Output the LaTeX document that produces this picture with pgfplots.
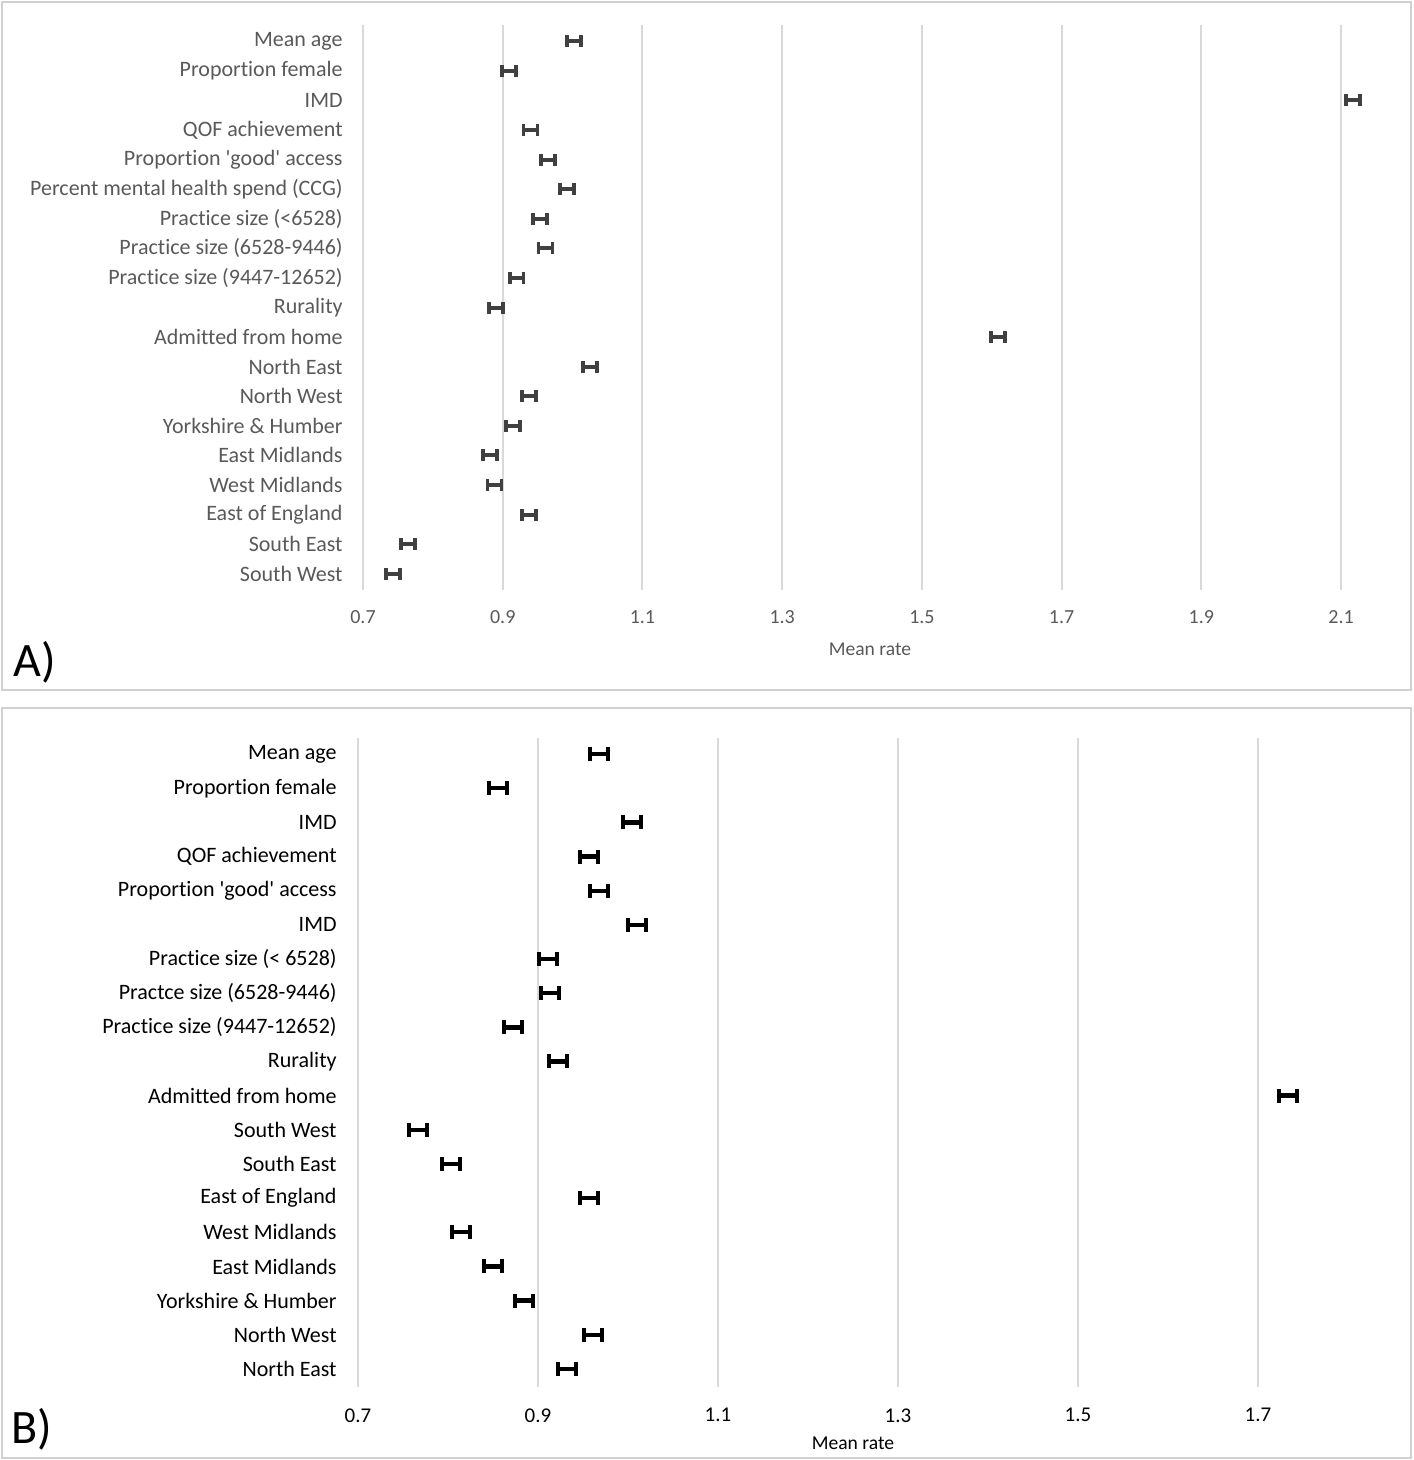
\documentclass[border=0pt]{standalone}
\usepackage{pgfplots}
\pgfplotsset{compat=1.18}
\usepackage{fontspec}
\setmainfont{Carlito}[Ligatures={TeX,NoCommon}]
\definecolor{gridgray}{HTML}{D9D9D9}
\definecolor{framegray}{HTML}{D0D0D0}
\definecolor{txtgray}{HTML}{595959}
\definecolor{bargray}{HTML}{404040}
\pgfplotstableread{
i v e
1 1.002 0.01
2 0.909 0.01
3 2.117 0.01
4 0.940 0.01
5 0.965 0.01
6 0.992 0.01
7 0.953 0.01
8 0.961 0.01
9 0.920 0.01
10 0.890 0.01
11 1.609 0.01
12 1.025 0.01
13 0.938 0.01
14 0.915 0.01
15 0.882 0.01
16 0.888 0.01
17 0.938 0.01
18 0.764 0.01
19 0.743 0.01
}\dataA
\pgfplotstableread{
i v e
1 0.968 0.01
2 0.856 0.01
3 1.004 0.01
4 0.957 0.01
5 0.968 0.01
6 1.010 0.01
7 0.911 0.01
8 0.913 0.01
9 0.872 0.01
10 0.922 0.01
11 1.733 0.01
12 0.767 0.01
13 0.803 0.01
14 0.957 0.01
15 0.814 0.01
16 0.850 0.01
17 0.884 0.01
18 0.961 0.01
19 0.932 0.01
}\dataB
\begin{document}
\begin{tikzpicture}
\path[use as bounding box] (0,0) rectangle (706.5pt,-730pt);
\draw[framegray, line width=1pt] (1pt,-1pt) rectangle (705.5pt,-345pt);
\draw[framegray, line width=1pt] (1pt,-354pt) rectangle (705.5pt,-729pt);
% Panel A
\begin{axis}[
  at={(181.5pt,-295pt)}, anchor=south west, scale only axis,
  width=517pt, height=282.5pt,
  xmin=0.7, xmax=2.18, ymin=0.45, ymax=19.55, y dir=reverse,
  axis line style={draw=none}, major tick length=0pt,
  xmajorgrids, grid style={draw=gridgray, line width=1pt},
  xtick={0.7,0.9,1.1,1.3,1.5,1.7,1.9,2.1},
  xticklabels={0.7,0.9,1.1,1.3,1.5,1.7,1.9,2.1},
  ytick={1,...,19},
  yticklabels={Mean age,Proportion female,IMD,QOF achievement,Proportion \textquotesingle good\textquotesingle\ access,Percent mental health spend (CCG),Practice size (<6528),Practice size (6528-9446),Practice size (9447-12652),Rurality,Admitted from home,North East,North West,Yorkshire \& Humber,East Midlands,West Midlands,East of England,South East,South West},
  yticklabel style={font=\fontsize{11pt}{13pt}\selectfont, text=txtgray, inner sep=0pt, xshift=-10pt},
  xticklabel style={font=\fontsize{10pt}{12pt}\selectfont, text=txtgray, inner sep=0pt, anchor=north, yshift=-10pt},
  /pgf/number format/assume math mode=true,
  clip=false,
]
\addplot[draw=none, mark=none,
  error bars/.cd, x dir=both, x explicit,
  error bar style={draw=bargray, line width=2pt},
  error mark=|, error mark options={draw=bargray, line width=1.8pt, mark size=3pt}]
  table[x=v, y=i, x error=e]{\dataA};
\end{axis}
\node[font=\fontsize{9.8pt}{11pt}\selectfont, text=txtgray] at (435pt,-324.5pt) {Mean rate};
\node[font=\fontsize{24pt}{28pt}\selectfont] at (17.5pt,-331pt) {A)};
% Panel B
\begin{axis}[
  at={(179pt,-693.5pt)}, anchor=south west, scale only axis,
  width=517.5pt, height=324.5pt,
  xmin=0.7, xmax=1.85, ymin=0.53, ymax=19.53, y dir=reverse,
  axis line style={draw=none}, major tick length=0pt,
  xmajorgrids, grid style={draw=gridgray, line width=1pt},
  xtick={0.7,0.9,1.1,1.3,1.5,1.7},
  xticklabels={0.7,0.9,1.1,1.3,1.5,1.7},
  ytick={1,...,19},
  yticklabels={Mean age,Proportion female,IMD,QOF achievement,Proportion \textquotesingle good\textquotesingle\ access,IMD,Practice size (< 6528),Practce size (6528-9446),Practice size (9447-12652),Rurality,Admitted from home,South West,South East,East of England,West Midlands,East Midlands,Yorkshire \& Humber,North West,North East},
  yticklabel style={font=\fontsize{11pt}{13pt}\selectfont, text=black, inner sep=0pt, xshift=-10.5pt},
  xticklabel style={font=\fontsize{10.5pt}{12pt}\selectfont, text=black, inner sep=0pt, anchor=north, yshift=-10.5pt},
  /pgf/number format/assume math mode=true,
  clip=false,
]
\addplot[draw=none, mark=none,
  error bars/.cd, x dir=both, x explicit,
  error bar style={draw=black, line width=2.2pt},
  error mark=|, error mark options={draw=black, line width=2pt, mark size=3.5pt}]
  table[x=v, y=i, x error=e]{\dataB};
\end{axis}
\node[font=\fontsize{9.8pt}{11pt}\selectfont] at (426.5pt,-721.5pt) {Mean rate};
\node[font=\fontsize{24pt}{28pt}\selectfont] at (16pt,-714.5pt) {B)};
\end{tikzpicture}
\end{document}
